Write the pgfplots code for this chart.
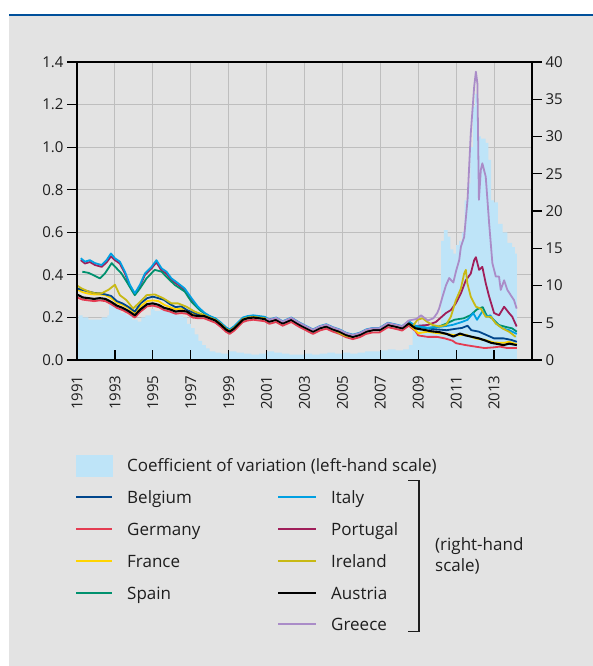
\documentclass[border=0pt]{standalone}
\usepackage{pgfplots}
\pgfplotsset{compat=1.18}
\usepackage{fontspec}
\setmainfont{Open Sans}

\definecolor{panel}{RGB}{227,227,227}
\definecolor{topblue}{RGB}{0,80,155}
\definecolor{gridgray}{RGB}{190,190,190}
\definecolor{txt}{RGB}{30,30,30}
\definecolor{areablue}{RGB}{190,228,248}
\definecolor{cBE}{RGB}{0,70,140}
\definecolor{cDE}{RGB}{228,60,82}
\definecolor{cFR}{RGB}{255,212,0}
\definecolor{cES}{RGB}{0,145,110}
\definecolor{cIT}{RGB}{0,160,226}
\definecolor{cPT}{RGB}{160,30,90}
\definecolor{cIE}{RGB}{200,185,20}
\definecolor{cAT}{RGB}{0,0,0}
\definecolor{cGR}{RGB}{170,140,200}

\newcommand\tickfont{\fontsize{15}{18}\selectfont}
\newcommand\legfont{\fontsize{17}{20}\selectfont}

\pgfplotsset{
  common/.style={
    at={(77pt,306pt)}, anchor=south west, scale only axis,
    width=455pt, height=298pt, xmin=1991, xmax=2015,
    /pgf/number format/assume math mode=true,
    every tick label/.append style={font=\tickfont, text=txt},
    axis line style={black, line width=1.3pt},
    major tick length=10pt,
  },
  series/.style={line width=1.8pt, line join=round, mark=none},
}

\begin{document}
\begin{tikzpicture}
\useasboundingbox (0,0) rectangle (593pt,666pt);
\fill[panel] (9pt,0) rectangle (593pt,650pt);
\draw[topblue, line width=2pt] (9pt,651pt) -- (593pt,651pt);

% left-hand scale: coefficient of variation
\begin{axis}[common,
  ymin=0, ymax=1.4,
  ytick={0,0.2,0.4,0.6,0.8,1.0,1.2,1.4},
  xtick={1991,1993,...,2013},
  grid=major, major grid style={gridgray, line width=1pt},
  tick align=outside, ytick pos=left, xtick pos=bottom,
  major x tick style={draw=none},
  major y tick style={black, line width=1.2pt},
  xticklabel style={rotate=90, anchor=east},
  xticklabel shift=2pt,
  x tick label style={/pgf/number format/1000 sep={}},
  y tick label style={/pgf/number format/.cd, fixed, fixed zerofill, precision=1},
]
\addplot[const plot, fill=areablue, draw=none] coordinates {
(1991.0,0.08)(1991.08,0.21)(1991.3,0.20)(1991.6,0.19)(1992.0,0.19)(1992.3,0.20)
(1992.6,0.21)(1992.7,0.26)(1992.9,0.27)(1993.1,0.24)(1993.3,0.22)(1993.6,0.21)
(1993.9,0.19)(1994.2,0.18)(1994.4,0.20)(1994.6,0.21)(1994.9,0.24)(1995.1,0.23)
(1995.4,0.235)(1995.7,0.23)(1996.0,0.22)(1996.3,0.21)(1996.6,0.20)(1996.8,0.17)
(1997.0,0.15)(1997.2,0.12)(1997.4,0.09)(1997.6,0.07)(1997.8,0.055)(1998.0,0.04)
(1998.3,0.035)(1998.6,0.03)(1999.0,0.04)(1999.4,0.035)(1999.8,0.03)(2000.2,0.025)
(2000.6,0.03)(2001.0,0.04)(2001.4,0.035)(2001.8,0.03)(2002.2,0.025)(2002.6,0.025)
(2003.0,0.03)(2003.4,0.025)(2003.8,0.03)(2004.2,0.035)(2004.6,0.03)(2005.0,0.035)
(2005.4,0.03)(2005.8,0.035)(2006.2,0.04)(2006.6,0.04)(2007.0,0.045)(2007.4,0.05)
(2007.8,0.045)(2008.2,0.05)(2008.5,0.07)(2008.7,0.15)(2009.0,0.17)(2009.5,0.16)
(2009.9,0.17)(2010.2,0.56)(2010.35,0.61)(2010.55,0.58)(2010.7,0.52)(2010.85,0.50)
(2011.0,0.54)(2011.15,0.56)(2011.3,0.60)(2011.45,0.75)(2011.6,0.83)(2011.75,1.00)
(2011.9,1.19)(2012.0,1.25)(2012.1,1.05)(2012.3,1.04)(2012.55,1.02)(2012.7,0.94)
(2012.85,0.75)(2013.0,0.74)(2013.2,0.64)(2013.45,0.60)(2013.7,0.55)(2013.95,0.53)
(2014.1,0.50)(2014.2,0.50)
} \closedcycle;
\end{axis}

% right-hand scale: countries
\begin{axis}[common,
  ymin=0, ymax=40, ytick={0,5,...,40},
  axis y line*=right, axis x line=none, xtick=\empty,
  tick align=outside,
  major y tick style={black, line width=1.2pt},
]
% Germany
\addplot[series, cDE] coordinates {
(1991.0,8.4)(1991.3,8.1)(1991.6,8.0)(1991.9,7.9)(1992.2,8.0)(1992.5,7.9)(1992.8,7.5)
(1993.1,7.0)(1993.4,6.7)(1993.7,6.3)(1994.05,5.7)(1994.35,6.5)(1994.7,7.2)(1995.0,7.3)
(1995.3,7.1)(1995.6,6.7)(1995.9,6.5)(1996.2,6.2)(1996.5,6.3)(1996.8,6.2)(1997.1,5.7)
(1997.4,5.6)(1997.7,5.6)(1998.0,5.3)(1998.3,5.0)(1998.6,4.4)(1998.85,3.8)(1999.05,3.5)
(1999.3,3.95)(1999.55,4.6)(1999.75,5.1)(2000.0,5.3)(2000.3,5.4)(2000.6,5.3)(2000.9,5.2)
(2001.15,4.85)(2001.5,5.1)(2001.85,4.6)(2002.3,5.1)(2002.75,4.4)(2003.1,3.95)(2003.45,3.5)
(2003.8,3.95)(2004.15,4.2)(2004.5,3.8)(2004.85,3.5)(2005.2,3.05)(2005.55,2.8)(2005.9,3.05)
(2006.25,3.5)(2006.6,3.7)(2006.95,3.7)(2007.4,4.4)(2007.85,4.15)(2008.15,3.95)(2008.5,4.6)
(2008.85,3.9)(2009.0,3.3)(2009.5,3.1)(2010.0,3.1)(2010.4,2.9)(2010.8,2.6)(2011.0,2.25)
(2011.5,2.0)(2012.0,1.8)(2012.5,1.6)(2013.0,1.7)(2013.3,1.8)(2013.7,1.6)(2014.2,1.6)
};
% France
\addplot[series, cFR] coordinates {
(1991.0,9.5)(1991.3,9.1)(1991.6,8.9)(1991.9,8.8)(1992.2,8.8)(1992.5,8.7)(1992.8,8.3)
(1993.1,7.7)(1993.4,7.4)(1993.7,7.0)(1994.05,6.3)(1994.35,7.2)(1994.7,7.9)(1995.0,8.0)
(1995.3,7.9)(1995.6,7.4)(1995.9,7.1)(1996.2,6.8)(1996.5,6.9)(1996.8,6.7)(1997.1,6.2)
(1997.4,6.0)(1997.7,5.9)(1998.0,5.65)(1998.3,5.35)(1998.6,4.75)(1998.85,4.15)(1999.05,3.85)
(1999.3,4.3)(1999.55,4.95)(1999.75,5.45)(2000.0,5.65)(2000.3,5.75)(2000.6,5.65)(2000.9,5.55)
(2001.15,5.2)(2001.5,5.45)(2001.85,4.95)(2002.3,5.45)(2002.75,4.75)(2003.1,4.3)(2003.45,3.85)
(2003.8,4.3)(2004.15,4.55)(2004.5,4.15)(2004.85,3.85)(2005.2,3.4)(2005.55,3.15)(2005.9,3.4)
(2006.25,3.85)(2006.6,4.05)(2006.95,4.05)(2007.4,4.75)(2007.85,4.5)(2008.15,4.3)(2008.5,4.9)
(2008.85,4.0)(2009.0,3.6)(2009.5,3.8)(2010.0,3.6)(2010.5,3.5)(2011.0,3.3)(2011.5,3.4)
(2012.0,2.9)(2012.5,2.7)(2013.0,2.35)(2013.5,2.3)(2013.8,2.45)(2014.2,2.1)
};
% Belgium
\addplot[series, cBE] coordinates {
(1991.0,9.6)(1991.3,9.4)(1991.6,9.2)(1991.9,9.0)(1992.2,8.95)(1992.5,8.8)(1992.8,8.6)
(1993.1,7.9)(1993.4,7.6)(1993.7,7.15)(1994.05,6.5)(1994.35,7.6)(1994.7,8.3)(1995.0,8.5)
(1995.3,8.3)(1995.6,8.05)(1995.9,7.5)(1996.2,7.1)(1996.5,7.2)(1996.8,6.7)(1997.1,6.4)
(1997.4,6.1)(1997.7,6.0)(1998.0,5.75)(1998.3,5.45)(1998.6,4.85)(1998.85,4.25)(1999.05,3.95)
(1999.3,4.4)(1999.55,5.05)(1999.75,5.55)(2000.0,5.75)(2000.3,5.85)(2000.6,5.75)(2000.9,5.65)
(2001.15,5.3)(2001.5,5.55)(2001.85,5.05)(2002.3,5.55)(2002.75,4.85)(2003.1,4.4)(2003.45,3.95)
(2003.8,4.4)(2004.15,4.65)(2004.5,4.25)(2004.85,3.95)(2005.2,3.5)(2005.55,3.25)(2005.9,3.5)
(2006.25,3.95)(2006.6,4.15)(2006.95,4.15)(2007.4,4.85)(2007.85,4.6)(2008.15,4.4)(2008.5,5.0)
(2008.85,4.5)(2009.2,4.4)(2009.6,4.2)(2010.0,4.1)(2010.5,4.0)(2011.0,4.2)(2011.3,4.3)
(2011.6,4.6)(2011.8,4.0)(2012.2,3.8)(2012.6,3.35)(2013.0,2.9)(2013.5,2.9)(2013.9,2.7)(2014.2,2.45)
};
% Portugal
\addplot[series, cPT] coordinates {
(1991.2,13.4)(1991.42,12.95)(1991.68,13.15)(1991.95,12.75)(1992.3,12.5)(1992.56,13.1)
(1992.79,13.9)(1993.0,13.4)(1993.26,12.95)(1993.53,11.6)(1993.79,9.9)(1994.05,8.8)
(1994.32,9.9)(1994.58,11.4)(1994.93,12.3)(1995.19,13.1)(1995.46,12.0)(1995.72,11.6)
(1995.98,10.7)(1996.33,10.1)(1996.68,9.4)(1997.04,8.1)(1997.38,7.0)(1997.74,6.2)(1998.0,5.85)
(1998.3,5.5)(1998.6,4.9)(1998.85,4.3)(1999.05,4.0)(1999.3,4.45)(1999.55,5.1)(1999.75,5.6)
(2000.0,5.8)(2000.3,5.9)(2000.6,5.8)(2000.9,5.7)(2001.15,5.35)(2001.5,5.6)(2001.85,5.1)
(2002.3,5.6)(2002.75,4.9)(2003.1,4.45)(2003.45,4.0)(2003.8,4.45)(2004.15,4.7)(2004.5,4.3)
(2004.85,4.0)(2005.2,3.55)(2005.55,3.3)(2005.9,3.55)(2006.25,4.0)(2006.6,4.2)(2006.95,4.2)
(2007.4,4.9)(2007.85,4.65)(2008.15,4.45)(2008.5,5.1)(2008.85,4.5)(2009.0,4.6)(2009.5,4.7)
(2009.93,5.1)(2010.46,6.3)(2010.72,6.7)(2010.98,7.6)(2011.25,8.95)(2011.51,10.7)(2011.77,11.6)
(2011.95,13.4)(2012.04,13.8)(2012.21,12.1)(2012.38,12.5)(2012.56,10.3)(2012.74,8.5)(2013.0,6.3)
(2013.26,6.0)(2013.53,7.15)(2013.79,6.3)(2013.96,5.8)(2014.19,4.5)
};
% Spain
\addplot[series, cES] coordinates {
(1991.28,11.85)(1991.6,11.7)(1991.86,11.4)(1992.21,10.96)(1992.47,11.6)(1992.83,13.0)
(1993.09,12.3)(1993.35,11.6)(1993.62,10.5)(1993.88,9.4)(1994.05,8.7)(1994.32,9.6)
(1994.67,10.96)(1995.1,12.1)(1995.46,11.85)(1995.8,10.96)(1996.16,10.07)(1996.68,9.2)
(1997.04,7.8)(1997.47,6.7)(1997.91,6.0)(1998.3,5.5)(1998.6,4.9)(1998.85,4.3)(1999.05,4.0)
(1999.3,4.45)(1999.55,5.1)(1999.75,5.6)(2000.0,5.8)(2000.3,5.9)(2000.6,5.8)(2000.9,5.7)
(2001.15,5.35)(2001.5,5.6)(2001.85,5.1)(2002.3,5.6)(2002.75,4.9)(2003.1,4.45)(2003.45,4.0)
(2003.8,4.45)(2004.15,4.7)(2004.5,4.3)(2004.85,4.0)(2005.2,3.55)(2005.55,3.3)(2005.9,3.55)
(2006.25,4.0)(2006.6,4.2)(2006.95,4.2)(2007.4,4.9)(2007.85,4.65)(2008.15,4.45)(2008.5,5.1)
(2008.85,4.5)(2009.5,4.3)(2010.1,4.5)(2010.5,4.9)(2010.9,5.4)(2011.4,5.6)(2011.75,6.0)
(2012.1,6.8)(2012.4,7.1)(2012.6,6.0)(2012.9,5.6)(2013.25,4.7)(2013.6,4.45)(2013.95,4.25)(2014.2,3.8)
};
% Italy
\addplot[series, cIT] coordinates {
(1991.2,13.65)(1991.42,13.2)(1991.68,13.4)(1991.95,13.0)(1992.3,12.75)(1992.56,13.4)
(1992.79,14.3)(1993.0,13.65)(1993.26,13.2)(1993.53,11.85)(1993.79,10.1)(1994.05,8.95)
(1994.32,10.1)(1994.58,11.6)(1994.93,12.5)(1995.19,13.4)(1995.46,12.3)(1995.72,11.85)
(1995.98,10.96)(1996.33,10.3)(1996.68,9.6)(1997.04,8.3)(1997.38,7.15)(1997.74,6.3)(1998.0,5.9)
(1998.3,5.6)(1998.6,5.0)(1998.85,4.4)(1999.05,4.1)(1999.3,4.55)(1999.55,5.2)(1999.75,5.7)
(2000.0,5.9)(2000.3,6.0)(2000.6,5.9)(2000.9,5.8)(2001.15,5.45)(2001.5,5.7)(2001.85,5.2)
(2002.3,5.7)(2002.75,5.0)(2003.1,4.55)(2003.45,4.1)(2003.8,4.55)(2004.15,4.8)(2004.5,4.4)
(2004.85,4.1)(2005.2,3.65)(2005.55,3.4)(2005.9,3.65)(2006.25,4.1)(2006.6,4.3)(2006.95,4.3)
(2007.4,5.0)(2007.85,4.75)(2008.15,4.55)(2008.5,5.2)(2008.85,4.6)(2009.5,4.3)(2010.3,4.5)
(2010.8,4.7)(2011.3,5.1)(2011.6,5.4)(2011.9,6.3)(2012.1,5.4)(2012.4,6.6)(2012.6,5.8)
(2012.8,6.0)(2013.1,4.9)(2013.45,4.25)(2013.8,4.0)(2014.2,3.5)
};
% Ireland
\addplot[series, cIE] coordinates {
(1991.0,10.0)(1991.25,9.6)(1991.6,9.2)(1991.95,8.95)(1992.3,8.95)(1992.65,9.4)(1993.0,10.1)
(1993.26,8.7)(1993.6,8.05)(1993.96,6.9)(1994.32,7.8)(1994.67,8.7)(1995.1,8.8)(1995.54,8.3)
(1995.98,7.6)(1996.33,7.6)(1996.77,7.15)(1997.2,6.5)(1997.74,6.0)(1998.0,5.7)(1998.3,5.4)
(1998.6,4.8)(1998.85,4.2)(1999.05,3.9)(1999.3,4.35)(1999.55,5.0)(1999.75,5.5)(2000.0,5.7)
(2000.3,5.8)(2000.6,5.7)(2000.9,5.6)(2001.15,5.25)(2001.5,5.5)(2001.85,5.0)(2002.3,5.5)
(2002.75,4.8)(2003.1,4.35)(2003.45,3.9)(2003.8,4.35)(2004.15,4.6)(2004.5,4.2)(2004.85,3.6)
(2005.2,3.2)(2005.55,3.1)(2005.9,3.45)(2006.25,3.9)(2006.6,4.1)(2006.95,4.1)(2007.4,4.8)
(2007.85,4.55)(2008.15,4.35)(2008.5,4.9)(2008.7,4.5)(2008.96,5.4)(2009.23,5.6)(2009.49,5.1)
(2009.75,4.7)(2010.1,4.5)(2010.46,4.7)(2010.72,5.8)(2010.98,8.0)(2011.25,9.6)(2011.42,11.6)
(2011.51,12.1)(2011.59,10.3)(2011.77,8.5)(2012.04,7.15)(2012.3,6.9)(2012.56,5.8)(2012.83,5.8)
(2013.09,4.9)(2013.44,4.25)(2013.79,3.8)(2014.14,3.1)
};
% Austria
\addplot[series, cAT, line width=2.1pt] coordinates {
(1991.0,8.8)(1991.3,8.4)(1991.6,8.3)(1991.9,8.2)(1992.2,8.3)(1992.5,8.2)(1992.8,7.8)
(1993.1,7.3)(1993.4,7.0)(1993.7,6.6)(1994.05,6.0)(1994.35,6.8)(1994.7,7.5)(1995.0,7.6)
(1995.3,7.4)(1995.6,7.0)(1995.9,6.8)(1996.2,6.5)(1996.5,6.6)(1996.8,6.5)(1997.1,6.0)
(1997.4,5.9)(1997.7,5.9)(1998.0,5.6)(1998.3,5.3)(1998.6,4.7)(1998.85,4.1)(1999.05,3.8)
(1999.3,4.25)(1999.55,4.9)(1999.75,5.4)(2000.0,5.6)(2000.3,5.7)(2000.6,5.6)(2000.9,5.5)
(2001.15,5.15)(2001.5,5.4)(2001.85,4.9)(2002.3,5.4)(2002.75,4.7)(2003.1,4.25)(2003.45,3.8)
(2003.8,4.25)(2004.15,4.5)(2004.5,4.1)(2004.85,3.8)(2005.2,3.35)(2005.55,3.1)(2005.9,3.35)
(2006.25,3.8)(2006.6,4.0)(2006.95,4.0)(2007.4,4.7)(2007.85,4.45)(2008.15,4.25)(2008.5,4.9)
(2008.85,4.25)(2009.4,4.0)(2009.7,3.85)(2010.1,3.75)(2010.5,3.5)(2010.85,3.15)(2011.2,3.55)
(2011.5,3.3)(2011.85,3.1)(2012.2,2.9)(2012.55,2.6)(2012.85,2.3)(2013.2,2.15)(2013.5,2.0)
(2013.8,2.2)(2014.0,2.1)(2014.2,2.0)
};
% Greece
\addplot[series, cGR] coordinates {
(2001.0,5.6)(2001.15,5.4)(2001.5,5.65)(2001.85,5.15)(2002.3,5.65)(2002.75,4.95)(2003.1,4.5)
(2003.45,4.05)(2003.8,4.5)(2004.15,4.75)(2004.5,4.35)(2004.85,4.05)(2005.2,3.6)(2005.55,3.35)
(2005.9,3.6)(2006.25,4.05)(2006.6,4.25)(2006.95,4.25)(2007.4,4.95)(2007.85,4.7)(2008.15,4.5)
(2008.5,5.3)(2008.9,5.5)(2009.15,6.0)(2009.5,5.3)(2009.8,5.6)(2010.0,6.3)(2010.1,6.9)
(2010.28,8.5)(2010.46,10.0)(2010.63,11.0)(2010.85,10.4)(2011.0,12.0)(2011.16,13.4)
(2011.25,15.2)(2011.42,16.5)(2011.6,21.5)(2011.77,30.4)(2011.95,36.7)(2012.04,38.7)
(2012.12,37.1)(2012.2,21.5)(2012.3,25.5)(2012.38,26.4)(2012.56,24.6)(2012.74,18.3)
(2012.91,13.0)(2013.09,11.2)(2013.26,11.2)(2013.35,9.4)(2013.53,10.7)(2013.7,9.4)
(2013.88,8.7)(2014.05,8.05)(2014.19,6.9)
};
\end{axis}

% bottom ticks and frame on top of the area
\begin{axis}[common,
  ymin=0, ymax=1,
  axis x line*=bottom, axis y line*=left,
  ytick=\empty, xtick={1991,1993,...,2013}, xticklabels={},
  tick align=inside,
  major x tick style={black, line width=1.2pt},
]
\end{axis}

% legend
\fill[areablue] (76pt,189pt) rectangle (113pt,211pt);
\node[anchor=base west, inner sep=0pt, font=\legfont, text=txt] at (127pt,194.3pt)
  {Coefficient of variation (left-hand scale)};
\foreach \y/\c/\t in {168.7/cBE/Belgium, 136.7/cDE/Germany, 105/cFR/France, 72.7/cES/Spain} {
  \draw[\c, line width=2.2pt] (76pt,\y pt) -- (112pt,\y pt);
  \node[anchor=base west, inner sep=0pt, font=\legfont, text=txt] at (127pt,\y pt-6.5pt) {\t};
}
\foreach \y/\c/\t in {168.7/cIT/Italy, 136.7/cPT/Portugal, 105/cIE/Ireland, 72.7/cAT/Austria, 42/cGR/Greece} {
  \draw[\c, line width=2.2pt] (278pt,\y pt) -- (316pt,\y pt);
  \node[anchor=base west, inner sep=0pt, font=\legfont, text=txt] at (331pt,\y pt-6.5pt) {\t};
}
\draw[txt, line width=1.2pt] (408pt,185.3pt) -- (419pt,185.3pt) -- (419pt,34.3pt) -- (408pt,34.3pt);
\node[anchor=base west, inner sep=0pt, font=\legfont, text=txt] at (435pt,115pt) {(right-hand};
\node[anchor=base west, inner sep=0pt, font=\legfont, text=txt] at (435pt,94.3pt) {scale)};
\end{tikzpicture}
\end{document}
